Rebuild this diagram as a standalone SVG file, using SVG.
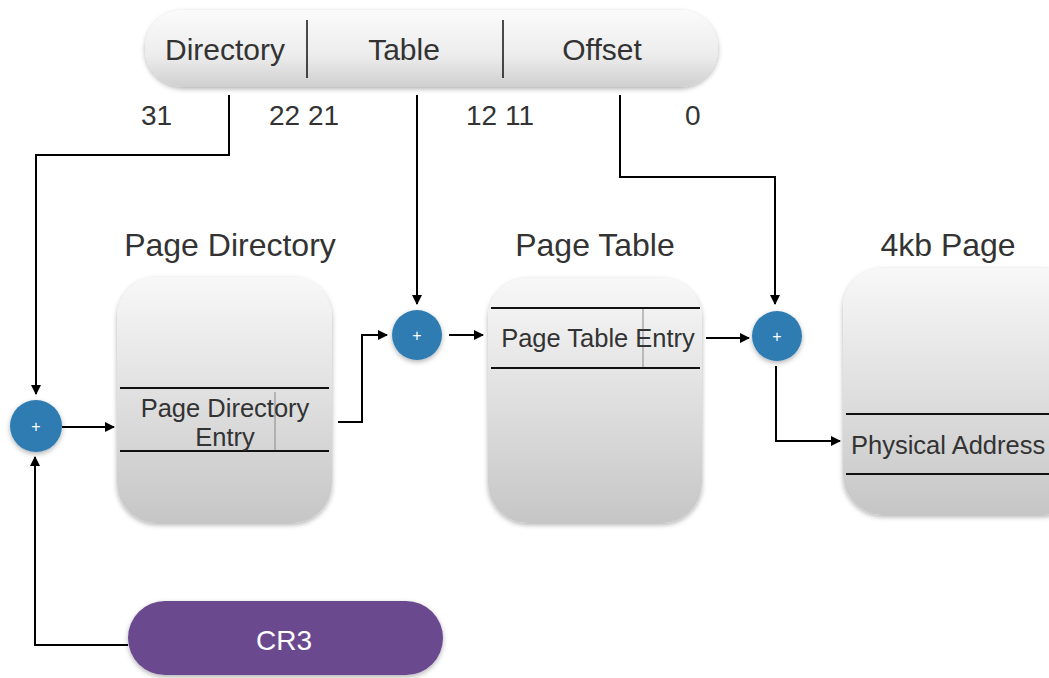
<svg xmlns="http://www.w3.org/2000/svg" width="1049" height="678" viewBox="0 0 1049 678">
<defs>
  <linearGradient id="boxg" x1="0" y1="0" x2="0" y2="1">
    <stop offset="0" stop-color="#f8f8f8"/>
    <stop offset="1" stop-color="#c6c6c6"/>
  </linearGradient>
  <linearGradient id="barg" x1="0" y1="0" x2="0" y2="1">
    <stop offset="0" stop-color="#fbfbfb"/>
    <stop offset="0.6" stop-color="#ececec"/>
    <stop offset="1" stop-color="#cfcfcf"/>
  </linearGradient>
  <filter id="sh" x="-20%" y="-20%" width="140%" height="140%">
    <feDropShadow dx="0" dy="2" stdDeviation="2.5" flood-color="#000" flood-opacity="0.3"/>
  </filter>
  <marker id="arr" markerWidth="10" markerHeight="10" refX="9" refY="5" orient="auto" markerUnits="userSpaceOnUse">
    <path d="M0,0 L10,5 L0,10 z" fill="#000"/>
  </marker>
</defs>
<style>
  text { font-family: "Liberation Sans", Arial, sans-serif; fill: #333; }
  .box { fill: url(#boxg); filter: url(#sh); }
  .sep { stroke: #111; stroke-width: 2; }
  .thin { stroke: #888; stroke-width: 1; }
  .conn { fill: none; stroke: #000; stroke-width: 2; }
  .add { fill: #2f7cb2; filter: url(#sh); }
  .plus { fill: #fff; font-size: 16px; }
  .title { font-size: 32px; text-anchor: middle; }
  .field { font-size: 30px; text-anchor: middle; }
  .num { font-size: 28px; }
  .entry { font-size: 25.5px; }
</style>

<g id="address">
  <rect x="145" y="10" width="573" height="77" rx="38" style="fill:url(#barg);filter:url(#sh)"/>
  <line x1="307" y1="20" x2="307" y2="78" class="sep" style="stroke-width:1.5"/>
  <line x1="503" y1="20" x2="503" y2="78" class="sep" style="stroke-width:1.5"/>
  <text x="225" y="60" class="field">Directory</text>
  <text x="404" y="60" class="field">Table</text>
  <text x="602" y="60" class="field">Offset</text>
  <text x="141" y="125" class="num">31</text>
  <text x="269" y="125" class="num">22 21</text>
  <text x="466" y="125" class="num">12 11</text>
  <text x="685" y="125" class="num">0</text>
</g>

<g id="page-directory">
  <text x="230" y="256" class="title">Page Directory</text>
  <rect x="117" y="277" width="215" height="246" rx="40" class="box"/>
  <line x1="120" y1="388" x2="329" y2="388" class="sep"/>
  <line x1="120" y1="451" x2="329" y2="451" class="sep"/>
  <line x1="275" y1="392" x2="275" y2="450" class="thin"/>
  <text x="225" y="417" class="entry" text-anchor="middle">Page Directory</text>
  <text x="225" y="446" class="entry" text-anchor="middle">Entry</text>
</g>

<g id="page-table">
  <text x="595" y="256" class="title">Page Table</text>
  <rect x="488" y="278" width="214" height="245" rx="40" class="box"/>
  <line x1="491" y1="308" x2="700" y2="308" class="sep"/>
  <line x1="491" y1="368" x2="700" y2="368" class="sep"/>
  <line x1="643" y1="309" x2="643" y2="367" class="thin"/>
  <text x="598" y="347" class="entry" text-anchor="middle">Page Table Entry</text>
</g>

<g id="page-4kb">
  <text x="948" y="256" class="title">4kb Page</text>
  <rect x="843" y="268" width="240" height="247" rx="40" class="box"/>
  <line x1="846" y1="414" x2="1049" y2="414" class="sep"/>
  <line x1="846" y1="474" x2="1049" y2="474" class="sep"/>
  <text x="851" y="454" class="entry">Physical Address</text>
</g>

<g id="cr3">
  <rect x="128" y="601" width="315" height="74" rx="37" fill="#6b4a8e" filter="url(#sh)"/>
  <text x="284" y="650" font-size="28" text-anchor="middle" style="fill:#fff">CR3</text>
</g>

<g id="add1">
  <circle cx="36" cy="426" r="26" class="add"/>
  <text x="36" y="432" class="plus" text-anchor="middle">+</text>
</g>
<g id="add2">
  <circle cx="417" cy="335" r="25" class="add"/>
  <text x="417" y="341" class="plus" text-anchor="middle">+</text>
</g>
<g id="add3">
  <circle cx="777" cy="336" r="25" class="add"/>
  <text x="777" y="342" class="plus" text-anchor="middle">+</text>
</g>

<g id="connectors">
  <polyline points="229,95 229,155 36,155 36,394" class="conn" marker-end="url(#arr)"/>
  <polyline points="128,645 35,645 35,457" class="conn" marker-end="url(#arr)"/>
  <line x1="62" y1="427" x2="114" y2="427" class="conn" marker-end="url(#arr)"/>
  <polyline points="338,422 362,422 362,335 387,335" class="conn" marker-end="url(#arr)"/>
  <line x1="417" y1="95" x2="417" y2="304" class="conn" marker-end="url(#arr)"/>
  <line x1="449" y1="335" x2="483" y2="335" class="conn" marker-end="url(#arr)"/>
  <polyline points="620,95 620,177 775,177 775,304" class="conn" marker-end="url(#arr)"/>
  <line x1="706" y1="338" x2="749" y2="338" class="conn" marker-end="url(#arr)"/>
  <polyline points="776,366 776,441 840,441" class="conn" marker-end="url(#arr)"/>
</g>
</svg>
